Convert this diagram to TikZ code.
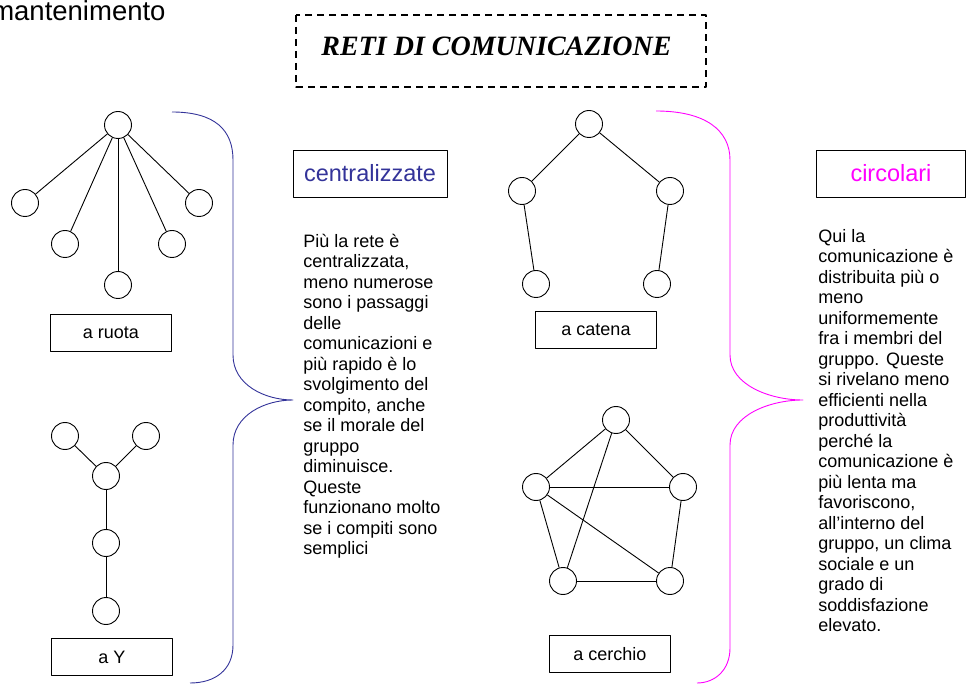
\documentclass[tikz,border=0pt]{standalone}
\usepackage{fontspec}
\setmainfont{Liberation Sans}
\newfontfamily\titlefont{Liberation Serif}
\definecolor{netblue}{RGB}{51,51,153}
\definecolor{netmagenta}{RGB}{255,0,255}
\tikzset{
  member/.style={draw, circle, minimum size=27pt, inner sep=0pt},
  netlabel/.style={draw, minimum width=121pt, minimum height=37pt, inner sep=0pt, font=\fontsize{18}{20.5}\selectfont},
  typebox/.style={draw, minimum height=47pt, inner sep=0pt, font=\fontsize{23.5}{26}\selectfont},
  bodytext/.style={anchor=base west, inner sep=0pt, align=left, font=\fontsize{18}{20.5}\selectfont},
}
\begin{document}
\begin{tikzpicture}[x=1pt, y=-1pt, line join=round, line width=0.9pt]
    \useasboundingbox (0,0) rectangle (975,684);
    % titolo
    \node[anchor=base east, inner sep=0pt, font=\fontsize{27.5}{30}\selectfont] (manten) at (166,21) {mantenimento};
    \draw[dash pattern=on 7pt off 5pt, line width=1.4pt] (296,15) rectangle (706,87);
    \node[anchor=base, inner sep=0pt, font=\titlefont\bfseries\itshape\fontsize{28}{32}\selectfont] (title) at (496.5,56) {RETI DI COMUNICAZIONE};
    % a ruota
    \node[member] (r0) at (118,125) {};
    \node[member] (r1) at (25,203) {};
    \node[member] (r2) at (65,244) {};
    \node[member] (r3) at (118,285) {};
    \node[member] (r4) at (172,244) {};
    \node[member] (r5) at (199,203) {};
    \foreach \n in {1,...,5} \draw (r0) -- (r\n);
    \node[netlabel] (ruota) at (111,333) {a ruota};
    % a Y
    \node[member] (y1) at (65,436) {};
    \node[member] (y2) at (146,436) {};
    \node[member] (y3) at (106,476) {};
    \node[member] (y4) at (106,543) {};
    \node[member] (y5) at (106,611) {};
    \draw (y1) -- (y3) -- (y2);
    \draw (y3) -- (y4) -- (y5);
    \node[netlabel] (ipsilon) at (112,657) {a Y};
    % graffa blu
    \draw[netblue] (172,112) .. controls (215,112) and (233,130) .. (233,160) -- (233,355)
        .. controls (233,385) and (265,400) .. (293,400)
        .. controls (265,400) and (233,415) .. (233,445) -- (233,645)
        .. controls (233,670) and (215,683) .. (190,683);
    \node[typebox, minimum width=154pt, text=netblue] (centr) at (370,173.5) {centralizzate};
    % base = ultima riga
    \node[bodytext] (testoc) at (303,554.5) {Più la rete è\\ centralizzata,\\ meno numerose\\ sono i passaggi\\ delle\\ comunicazioni e\\ più rapido è lo\\ svolgimento del\\ compito, anche\\ se il morale del\\ gruppo\\ diminuisce.\\ Queste\\ funzionano molto\\ se i compiti sono\\ semplici};
    % a catena
    \node[member] (k1) at (589,124) {};
    \node[member] (k2) at (522,191) {};
    \node[member] (k3) at (670,191) {};
    \node[member] (k4) at (536,284) {};
    \node[member] (k5) at (657,284) {};
    \draw (k4) -- (k2) -- (k1) -- (k3) -- (k5);
    \node[netlabel] (catena) at (596,330) {a catena};
    % a cerchio
    \node[member] (c1) at (616,420) {};
    \node[member] (c2) at (536,487) {};
    \node[member] (c3) at (683,487) {};
    \node[member] (c4) at (563,581) {};
    \node[member] (c5) at (670,581) {};
    \foreach \a/\b in {c1/c2, c1/c3, c1/c4, c2/c3, c2/c4, c2/c5, c3/c5, c4/c5}
        \draw (\a) -- (\b);
    \node[netlabel] (cerchio) at (610,654) {a cerchio};
    % graffa magenta
    \draw[netmagenta] (656,111) .. controls (705,111) and (730,130) .. (730,160) -- (730,355)
        .. controls (730,385) and (770,400) .. (803,400)
        .. controls (770,400) and (730,415) .. (730,445) -- (730,648)
        .. controls (730,670) and (715,683) .. (697,683);
    \node[typebox, minimum width=149pt, text=netmagenta] (circ) at (891,173.5) {circolari};
    \node[bodytext] (testor) at (818,631.5) {Qui la\\ comunicazione è\\ distribuita più o\\ meno\\ uniformemente\\ fra i membri del\\ gruppo. Queste\\ si rivelano meno\\ efficienti nella\\ produttività\\ perché la\\ comunicazione è\\ più lenta ma\\ favoriscono,\\ all’interno del\\ gruppo, un clima\\ sociale e un\\ grado di\\ soddisfazione\\ elevato.};
\end{tikzpicture}
\end{document}
